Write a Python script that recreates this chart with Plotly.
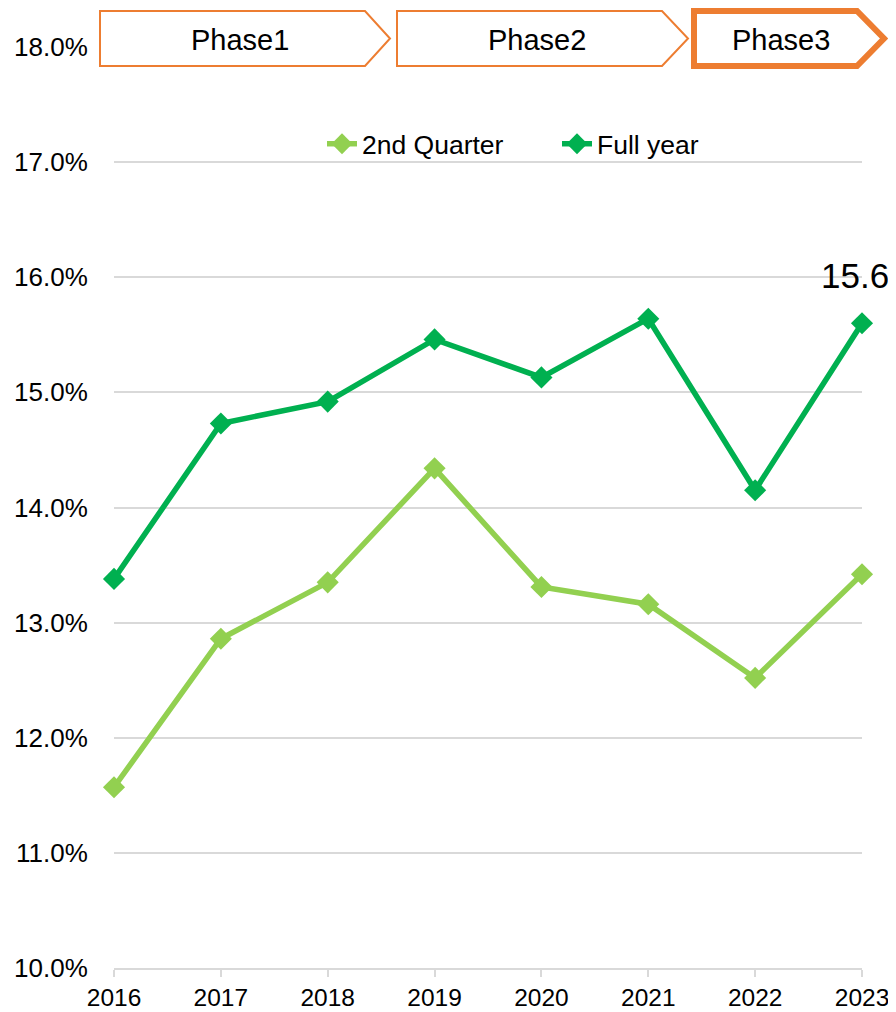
import plotly.graph_objects as go

years = [2016, 2017, 2018, 2019, 2020, 2021, 2022, 2023]
second_quarter = [11.57, 12.86, 13.35, 14.34, 13.31, 13.16, 12.52, 13.42]
full_year = [13.38, 14.73, 14.92, 15.46, 15.13, 15.64, 14.15, 15.60]
series_names = ["2nd Quarter", "Full year"]
phase_labels = ["Phase1", "Phase2", "Phase3"]
end_label = "15.6"

OFF = 8  # page body margin
W, H = 896 - OFF, 1012 - OFF
L, R, T, B = 114 - OFF, 34, 47 - OFF, 44
PW, PH = W - L - R, H - T - B

def px(x):
    return (x - OFF - L) / PW

def py(y):
    return (H - B - (y - OFF)) / PH

fig = go.Figure()
fig.add_trace(go.Scatter(
    x=years, y=second_quarter, name=series_names[0], mode="lines+markers",
    line=dict(color="#92D050", width=5.5),
    marker=dict(symbol="diamond", size=17, color="#92D050"),
    cliponaxis=False))
fig.add_trace(go.Scatter(
    x=years, y=full_year, name=series_names[1], mode="lines+markers",
    line=dict(color="#00B050", width=5.5),
    marker=dict(symbol="diamond", size=17, color="#00B050"),
    cliponaxis=False))

orange = "#ED7D31"
boxes = [
    (100, 365, 390, 11, 66, 2),
    (397, 662, 688, 11, 66, 2),
    (694, 857, 884, 11, 66, 6),
]
shapes = []
for (x0, xb, xt, y0, y1, lw) in boxes:
    ym = (y0 + y1) / 2
    path = (f"M {px(x0)},{py(y0)} L {px(xb)},{py(y0)} L {px(xt)},{py(ym)} "
            f"L {px(xb)},{py(y1)} L {px(x0)},{py(y1)} Z")
    shapes.append(dict(type="path", xref="paper", yref="paper", path=path,
                       line=dict(color=orange, width=lw), fillcolor="white",
                       layer="above"))
# partial arrow tip at far left
shapes.append(dict(type="path", xref="paper", yref="paper",
                   path=f"M {px(-20)},{py(20)} L {px(2)},{py(44)} L {px(-20)},{py(68)}",
                   line=dict(color=orange, width=2), layer="above"))

annotations = []
for lbl, cx in zip(phase_labels, [240, 537, 781]):
    annotations.append(dict(x=px(cx), y=py(40), xref="paper", yref="paper",
                            text=lbl, showarrow=False, xanchor="center", yanchor="middle",
                            font=dict(size=29, color="black")))
annotations.append(dict(x=px(819), y=py(275), xref="paper", yref="paper",
                        text=end_label, showarrow=False, xanchor="left", yanchor="middle",
                        font=dict(size=35, color="black")))

fig.update_layout(
    width=W, height=H,
    margin=dict(l=L, r=R, t=T, b=B, autoexpand=False),
    paper_bgcolor="white", plot_bgcolor="white",
    font=dict(family="Liberation Sans, Arial, sans-serif", color="black"),
    showlegend=True,
    legend=dict(orientation="h", x=px(322), y=py(144), xanchor="left", yanchor="middle",
                font=dict(size=26.5), bgcolor="rgba(0,0,0,0)",
                entrywidth=190, entrywidthmode="pixels"),
    shapes=shapes, annotations=annotations,
    xaxis=dict(range=[years[0], years[-1]], tickvals=years, ticktext=[str(y) for y in years],
               showgrid=False, zeroline=False, showline=True, linecolor="#D9D9D9", linewidth=2,
               ticks="outside", ticklen=7, tickcolor="#D9D9D9", tickwidth=1.5,
               tickfont=dict(size=24.5)),
    yaxis=dict(range=[10, 18], dtick=1, tickformat=".1f", ticksuffix="%",
               showgrid=True, gridcolor="#D9D9D9", gridwidth=1.5, zeroline=False,
               showline=False, ticks="outside", ticklen=20, tickcolor="rgba(0,0,0,0)",
               tickfont=dict(size=26)),
)

fig.write_html("out.html")
